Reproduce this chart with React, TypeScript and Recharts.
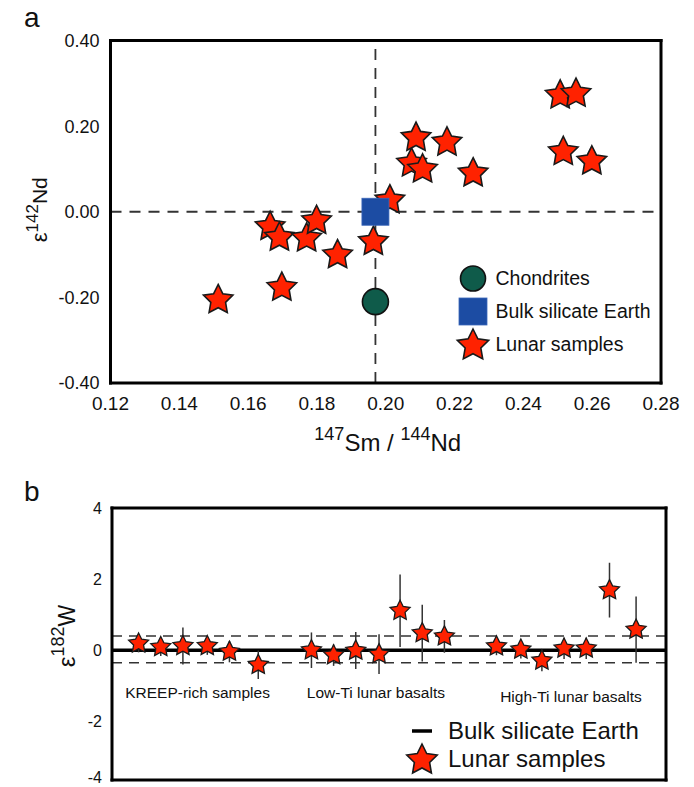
import React from 'react';
import { ScatterChart, Scatter, XAxis, YAxis, ReferenceLine, ErrorBar, Legend } from 'recharts';

const FONT = "'Liberation Sans', Arial, Helvetica, sans-serif";
const INK = '#111';
const RED = '#ff2200';
const BLUE = '#1c4ca3';
const GREEN = '#0f5b4a';
const STAR_STROKE = '#1a1a1a';

// ---------- Panel a data ----------
const SM_ND = [0.1513, 0.1698, 0.1664, 0.1691, 0.177, 0.1799, 0.186, 0.1964, 0.2012, 0.2075, 0.2088, 0.2107, 0.2178, 0.2254, 0.2507, 0.2553, 0.2516, 0.2599];
const EPS_ND = [-0.206, -0.177, -0.035, -0.06, -0.062, -0.021, -0.101, -0.07, 0.027, 0.113, 0.173, 0.099, 0.162, 0.09, 0.272, 0.276, 0.14, 0.118];
const CHONDRITES_X = [0.197];
const CHONDRITES_Y = [-0.21];
const BSE_A_X = [0.197];
const BSE_A_Y = [0.0];
const A_X_TICKS = [0.12, 0.14, 0.16, 0.18, 0.2, 0.22, 0.24, 0.26, 0.28];
const A_X_INNER = [0.14, 0.16, 0.18, 0.2, 0.22, 0.24, 0.26];
const A_Y_TICKS = [-0.4, -0.2, 0, 0.2, 0.4];
const A_Y_INNER = [-0.2, 0, 0.2];
const A_REF_X = 0.197;
const A_REF_Y = 0;
const A_LEGEND = ['Chondrites', 'Bulk silicate Earth', 'Lunar samples'];

// ---------- Panel b data ----------
const KREEP_X = [1.2, 2.2, 3.2, 4.3, 5.3, 6.6];
const KREEP_W = [0.19, 0.09, 0.12, 0.12, -0.04, -0.41];
const KREEP_ERR = [0.25, 0.25, 0.52, 0.25, 0.3, 0.4];
const LOWTI_X = [9.0, 10.0, 11.0, 12.05, 13.0, 14.0, 15.0];
const LOWTI_W = [0.0, -0.14, -0.01, -0.11, 1.11, 0.48, 0.39];
const LOWTI_ERR = [0.5, 0.3, 0.52, 0.56, 1.02, 0.8, 0.46];
const HIGHTI_X = [17.35, 18.45, 19.4, 20.4, 21.4, 22.45, 23.65];
const HIGHTI_W = [0.11, 0.02, -0.29, 0.05, 0.05, 1.69, 0.58];
const HIGHTI_ERR = [0.25, 0.25, 0.3, 0.3, 0.3, 0.77, 0.93];
const B_Y_TICKS = [-4, -2, 0, 2, 4];
const B_Y_INNER = [-2, 0, 2];
const B_BSE = 0;
const B_BAND = [-0.35, 0.4];
const GROUP_LABELS = ['KREEP-rich samples', 'Low-Ti lunar basalts', 'High-Ti lunar basalts'];
const GROUP_X = [3.86, 11.91, 20.71];
const GROUP_Y = [-1.2, -1.2, -1.31];
const B_LEGEND = ['Bulk silicate Earth', 'Lunar samples'];

// ---------- derived tables ----------
const lunarA = SM_ND.map((x, i) => ({ x, y: EPS_ND[i] }));
const chondA = CHONDRITES_X.map((x, i) => ({ x, y: CHONDRITES_Y[i] }));
const bseA = BSE_A_X.map((x, i) => ({ x, y: BSE_A_Y[i] }));
const samplesB = [
  ...KREEP_X.map((x, i) => ({ x, y: KREEP_W[i], err: KREEP_ERR[i] })),
  ...LOWTI_X.map((x, i) => ({ x, y: LOWTI_W[i], err: LOWTI_ERR[i] })),
  ...HIGHTI_X.map((x, i) => ({ x, y: HIGHTI_W[i], err: HIGHTI_ERR[i] })),
];
const groupsB = GROUP_LABELS.map((label, i) => ({ x: GROUP_X[i], y: GROUP_Y[i], label }));

// ---------- shapes ----------
function starPath(cx: number, cy: number, R: number, r: number) {
  let d = '';
  for (let i = 0; i < 10; i++) {
    const rad = i % 2 === 0 ? R : r;
    const a = -Math.PI / 2 + (i * Math.PI) / 5;
    d += (i === 0 ? 'M' : 'L') + (cx + rad * Math.cos(a)).toFixed(2) + ',' + (cy + rad * Math.sin(a)).toFixed(2);
  }
  return d + 'Z';
}

const Star = ({ cx, cy, R, sw = 1.6 }: any) => (
  <path d={starPath(cx, cy, R, R * 0.5)} fill={RED} stroke={STAR_STROKE} strokeWidth={sw} strokeLinejoin="miter" />
);

const StarA = (p: any) => <Star cx={p.cx} cy={p.cy} R={15.5} />;
const StarB = (p: any) => <Star cx={p.cx} cy={p.cy} R={10.5} sw={1.3} />;
const SquareA = (p: any) => <rect x={p.cx - 13.5} y={p.cy - 13.5} width={27} height={27} fill={BLUE} stroke="#3a66b8" strokeWidth={0.8} />;
const CircleA = (p: any) => <circle cx={p.cx} cy={p.cy} r={13} fill={GREEN} stroke={INK} strokeWidth={1.6} />;
const GroupLabel = (p: any) => (
  <text x={p.cx} y={p.cy} dy="0.36em" textAnchor="middle" fontFamily={FONT} fontSize={15.5} fill={INK}>
    {p.payload.label}
  </text>
);

const frameLine = { stroke: '#000', strokeWidth: 3, strokeLinecap: 'square' as const };

// ---------- axis labels ----------
const YLabelA = (props: any) => {
  const vb = props.viewBox || { y: 0, height: 0 };
  const cx = 47;
  const cy = vb.y + vb.height / 2 - 2;
  return (
    <text transform={`rotate(-90 ${cx} ${cy})`} x={cx} y={cy} textAnchor="middle" fontFamily={FONT} fill={INK}>
      <tspan fontSize={22}>ε</tspan>
      <tspan fontSize={17} dy={-9}>142</tspan>
      <tspan fontSize={21} dy={9}>Nd</tspan>
    </text>
  );
};

const XLabelA = (props: any) => {
  const vb = props.viewBox || { x: 0, width: 0 };
  const cx = vb.x + vb.width / 2 + 2;
  return (
    <text x={cx} y={451} textAnchor="middle" fontFamily={FONT} fill={INK}>
      <tspan fontSize={18} dy={-11}>147</tspan>
      <tspan fontSize={24} dy={11}>{'Sm\u00A0/\u00A0'}</tspan>
      <tspan fontSize={18} dy={-11}>144</tspan>
      <tspan fontSize={24} dy={11}>Nd</tspan>
    </text>
  );
};

const YLabelB = (props: any) => {
  const vb = props.viewBox || { y: 0, height: 0 };
  const cx = 75;
  const cy = vb.y + vb.height / 2 - 8;
  return (
    <text transform={`rotate(-90 ${cx} ${cy})`} x={cx} y={cy} textAnchor="middle" fontFamily={FONT} fill={INK}>
      <tspan fontSize={24}>ε</tspan>
      <tspan fontSize={18} dy={-11}>182</tspan>
      <tspan fontSize={23} dy={11}>W</tspan>
    </text>
  );
};

const TickB = (p: any) => (
  <text x={p.x} y={Math.min(p.y, 307)} dy="0.36em" textAnchor="end" fontFamily={FONT} fontSize={16} fill={INK}>
    {p.payload.value}
  </text>
);

// ---------- legends ----------
const legendIconA = (name: string) => {
  if (name === 'Chondrites') return <circle cx={18} cy={16.5} r={12.5} fill={GREEN} stroke={INK} strokeWidth={1.6} />;
  if (name === 'Bulk silicate Earth') return <rect x={4} y={3} width={28} height={27} fill={BLUE} stroke="#3a66b8" strokeWidth={0.8} />;
  return <Star cx={18} cy={17.5} R={16.5} />;
};

const LegendA = () => (
  <div style={{ fontFamily: FONT, fontSize: 19.5, color: INK }}>
    {A_LEGEND.map((name) => (
      <div key={name} style={{ display: 'flex', alignItems: 'center', height: 33 }}>
        <svg width={36} height={33} style={{ overflow: 'visible' }}>{legendIconA(name)}</svg>
        <span style={{ marginLeft: 4.5, whiteSpace: 'nowrap' }}>{name}</span>
      </div>
    ))}
  </div>
);

const legendIconB = (name: string) => {
  if (name === 'Bulk silicate Earth') return <line x1={8} x2={28} y1={14} y2={14} stroke="#000" strokeWidth={3.5} />;
  return <Star cx={18} cy={15} R={16} />;
};

const LegendB = () => (
  <div style={{ fontFamily: FONT, fontSize: 24, color: INK }}>
    {B_LEGEND.map((name) => (
      <div key={name} style={{ display: 'flex', alignItems: 'center', height: 28 }}>
        <svg width={36} height={28} style={{ overflow: 'visible' }}>{legendIconB(name)}</svg>
        <span style={{ marginLeft: 8, whiteSpace: 'nowrap' }}>{name}</span>
      </div>
    ))}
  </div>
);

const panelLabel = (text: string, top: number) => (
  <div style={{ position: 'absolute', left: 24, top, fontFamily: FONT, fontSize: 28, lineHeight: 1, color: INK }}>{text}</div>
);

export default function App() {
  return (
    <div style={{ position: 'absolute', left: 0, top: 0, width: 694, height: 787, background: '#fff', overflow: 'hidden' }}>
      {panelLabel('a', 4)}
      {panelLabel('b', 478)}
      <div style={{ position: 'absolute', left: 0, top: 0 }}>
        <ScatterChart width={694} height={470} margin={{ top: 40.5, right: 33, bottom: 0, left: 0 }}>
          <XAxis xAxisId="x" type="number" dataKey="x" domain={[0.12, 0.28]} ticks={A_X_TICKS} interval={0} allowDataOverflow height={87}
            axisLine={false} tickLine={false} tickSize={0} tickMargin={14}
            tick={{ fontSize: 19, fill: INK, fontFamily: FONT }} tickFormatter={(v: number) => v.toFixed(2)} label={XLabelA} />
          <XAxis xAxisId="xb" type="number" domain={[0.12, 0.28]} ticks={A_X_INNER} interval={0} allowDataOverflow mirror orientation="bottom"
            tick={false} tickSize={12} tickLine={frameLine} axisLine={frameLine} height={2} />
          <XAxis xAxisId="xt" type="number" domain={[0.12, 0.28]} ticks={A_X_INNER} interval={0} allowDataOverflow mirror orientation="top"
            tick={false} tickSize={12} tickLine={frameLine} axisLine={frameLine} height={2} />
          <YAxis yAxisId="y" type="number" dataKey="y" domain={[-0.4, 0.4]} ticks={A_Y_TICKS} interval={0} allowDataOverflow width={110.5}
            axisLine={false} tickLine={false} tickSize={0} tickMargin={11}
            tick={{ fontSize: 18, fill: INK, fontFamily: FONT }} tickFormatter={(v: number) => v.toFixed(2)} label={YLabelA} />
          <YAxis yAxisId="yl" type="number" domain={[-0.4, 0.4]} ticks={A_Y_INNER} interval={0} allowDataOverflow mirror orientation="left"
            tick={false} tickSize={12} tickLine={frameLine} axisLine={frameLine} width={2} />
          <YAxis yAxisId="yr" type="number" domain={[-0.4, 0.4]} ticks={A_Y_INNER} interval={0} allowDataOverflow mirror orientation="right"
            tick={false} tickSize={12} tickLine={frameLine} axisLine={frameLine} width={2} />
          <ReferenceLine xAxisId="x" yAxisId="y" y={A_REF_Y} stroke="#333" strokeWidth={1.8} strokeDasharray="11 8" />
          <ReferenceLine xAxisId="x" yAxisId="y" x={A_REF_X} stroke="#333" strokeWidth={1.8} strokeDasharray="11 8" />
          <Scatter xAxisId="x" yAxisId="y" name="Lunar samples" data={lunarA} shape={StarA} isAnimationActive={false} />
          <Scatter xAxisId="x" yAxisId="y" name="Bulk silicate Earth" data={bseA} shape={SquareA} isAnimationActive={false} />
          <Scatter xAxisId="x" yAxisId="y" name="Chondrites" data={chondA} shape={CircleA} isAnimationActive={false} />
          <Legend layout="vertical" align="center" verticalAlign="middle" content={LegendA}
            wrapperStyle={{ left: 455, top: 262, width: 230, height: 99 }} />
        </ScatterChart>
      </div>
      <div style={{ position: 'absolute', left: 0, top: 470 }}>
        <ScatterChart width={694} height={317} margin={{ top: 38, right: 28, bottom: 7, left: 0 }}>
          <XAxis xAxisId="x" type="number" dataKey="x" domain={[0, 25]} allowDataOverflow hide />
          <XAxis xAxisId="xb" type="number" domain={[0, 25]} allowDataOverflow mirror orientation="bottom"
            tick={false} tickLine={false} axisLine={frameLine} height={2} />
          <XAxis xAxisId="xt" type="number" domain={[0, 25]} allowDataOverflow mirror orientation="top"
            tick={false} tickLine={false} axisLine={frameLine} height={2} />
          <YAxis yAxisId="y" type="number" dataKey="y" domain={[-3.65, 4]} ticks={B_Y_TICKS} interval={0} allowDataOverflow width={112}
            axisLine={false} tickLine={false} tickSize={0} tickMargin={10} tick={TickB} label={YLabelB} />
          <YAxis yAxisId="yl" type="number" domain={[-3.65, 4]} ticks={B_Y_INNER} interval={0} allowDataOverflow mirror orientation="left"
            tick={false} tickSize={15} tickLine={{ ...frameLine, strokeWidth: 3.5, strokeLinecap: 'butt' }} axisLine={frameLine} width={2} />
          <YAxis yAxisId="yr" type="number" domain={[-3.65, 4]} ticks={B_Y_INNER} interval={0} allowDataOverflow mirror orientation="right"
            tick={false} tickSize={15} tickLine={{ ...frameLine, strokeWidth: 3.5, strokeLinecap: 'butt' }} axisLine={frameLine} width={2} />
          <ReferenceLine xAxisId="x" yAxisId="y" y={B_BAND[1]} stroke="#333" strokeWidth={1.5} strokeDasharray="10 7" />
          <ReferenceLine xAxisId="x" yAxisId="y" y={B_BAND[0]} stroke="#333" strokeWidth={1.5} strokeDasharray="10 7" />
          <ReferenceLine xAxisId="x" yAxisId="y" y={B_BSE} stroke="#000" strokeWidth={3.5} />
          <Scatter xAxisId="x" yAxisId="y" name="Lunar samples" data={samplesB} shape={StarB} isAnimationActive={false}>
            <ErrorBar dataKey="err" direction="y" width={0} stroke="#333" strokeWidth={1.5} />
          </Scatter>
          <Scatter xAxisId="x" yAxisId="y" name="groups" data={groupsB} shape={GroupLabel} legendType="none" isAnimationActive={false} />
          <Legend layout="vertical" align="center" verticalAlign="middle" content={LegendB}
            wrapperStyle={{ left: 404, top: 247, width: 260, height: 56 }} />
        </ScatterChart>
      </div>
    </div>
  );
}
